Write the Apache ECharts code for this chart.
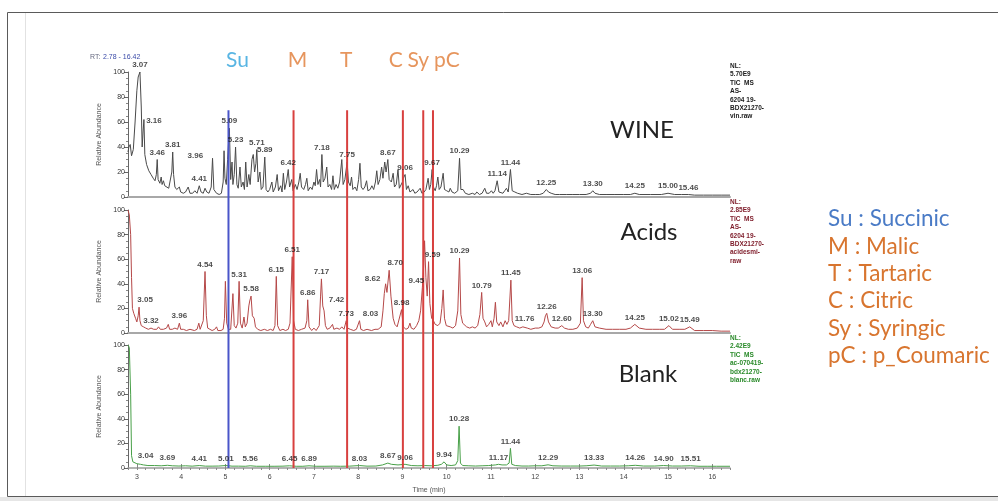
<!DOCTYPE html>
<html>
<head>
<meta charset="utf-8">
<script src="https://cdn.jsdelivr.net/npm/echarts@6/dist/echarts.min.js"></script>
<style>
  html, body { margin: 0; padding: 0; background: #ffffff; }
  #chart { width: 998px; height: 501px; }
</style>
</head>
<body>
<div id="chart"></div>
<script>
// ---- Chromatogram traces: [retention time (min), relative abundance (%)] ----
const wineTrace = [
  [2.8, 36], [2.82, 40], [2.85, 42], [2.88, 33], [2.92, 38], [2.96, 60], [3.0, 85], [3.03, 96], [3.07, 100],
  [3.1, 72], [3.12, 40], [3.14, 52], [3.16, 62], [3.18, 34], [3.22, 26], [3.27, 21], [3.32, 18], [3.37, 15],
  [3.41, 13], [3.44, 18], [3.46, 30], [3.48, 14], [3.52, 11], [3.55, 16], [3.57, 10], [3.6, 13], [3.63, 9],
  [3.67, 8], [3.72, 7], [3.76, 8], [3.79, 20], [3.81, 36], [3.83, 18], [3.86, 8], [3.9, 6], [3.94, 5],
  [3.96, 8], [3.99, 4], [4.05, 3], [4.1, 4], [4.16, 8], [4.2, 3], [4.26, 3], [4.31, 5], [4.36, 3], [4.41, 9],
  [4.45, 4], [4.5, 3], [4.54, 7], [4.58, 4], [4.63, 3], [4.68, 8], [4.71, 31], [4.74, 6], [4.8, 3], [4.86, 2],
  [4.91, 3], [4.95, 12], [4.97, 37], [4.99, 15], [5.02, 10], [5.05, 30], [5.09, 55], [5.12, 14], [5.15, 28],
  [5.17, 10], [5.2, 18], [5.23, 40], [5.26, 10], [5.29, 7], [5.33, 24], [5.36, 8], [5.4, 12], [5.43, 6],
  [5.46, 28], [5.49, 8], [5.53, 18], [5.56, 10], [5.6, 30], [5.63, 34], [5.66, 20], [5.69, 27], [5.71, 38],
  [5.74, 12], [5.78, 20], [5.81, 6], [5.85, 8], [5.89, 32], [5.92, 6], [5.96, 4], [6.0, 6], [6.05, 12],
  [6.08, 4], [6.13, 8], [6.17, 18], [6.2, 5], [6.25, 9], [6.28, 4], [6.31, 19], [6.34, 6], [6.38, 12],
  [6.42, 22], [6.45, 8], [6.5, 14], [6.53, 5], [6.58, 10], [6.62, 6], [6.66, 12], [6.69, 19], [6.72, 8],
  [6.77, 6], [6.81, 10], [6.84, 15], [6.87, 5], [6.92, 8], [6.96, 6], [7.0, 12], [7.03, 9], [7.06, 22],
  [7.09, 10], [7.13, 14], [7.15, 8], [7.18, 34], [7.21, 12], [7.25, 15], [7.29, 24], [7.32, 8], [7.36, 10],
  [7.4, 6], [7.43, 17], [7.46, 6], [7.5, 10], [7.54, 7], [7.58, 12], [7.63, 30], [7.66, 10], [7.7, 14],
  [7.75, 28], [7.78, 12], [7.82, 9], [7.85, 16], [7.88, 6], [7.93, 8], [7.97, 5], [8.01, 14], [8.04, 27],
  [8.07, 8], [8.11, 6], [8.15, 8], [8.19, 13], [8.22, 5], [8.27, 6], [8.31, 9], [8.35, 6], [8.39, 12],
  [8.42, 21], [8.45, 10], [8.49, 14], [8.53, 24], [8.56, 15], [8.6, 28], [8.63, 20], [8.67, 30], [8.7, 14],
  [8.75, 12], [8.79, 19], [8.82, 8], [8.86, 10], [8.9, 22], [8.93, 7], [8.97, 8], [9.0, 12], [9.02, 15],
  [9.06, 18], [9.09, 6], [9.13, 9], [9.17, 4], [9.21, 5], [9.24, 6], [9.28, 3], [9.33, 4], [9.37, 3],
  [9.4, 7], [9.44, 3], [9.49, 4], [9.53, 6], [9.58, 15], [9.61, 6], [9.64, 10], [9.67, 22], [9.7, 8],
  [9.74, 5], [9.77, 9], [9.8, 16], [9.83, 6], [9.87, 8], [9.92, 19], [9.95, 6], [10.0, 5], [10.05, 4],
  [10.08, 7], [10.12, 4], [10.18, 3], [10.25, 5], [10.29, 31], [10.32, 6], [10.37, 6], [10.42, 3],
  [10.5, 2], [10.58, 3], [10.64, 2], [10.68, 4], [10.74, 2], [10.8, 3], [10.86, 7], [10.9, 3], [10.96, 3],
  [11.01, 5], [11.05, 3], [11.09, 5], [11.14, 13], [11.18, 4], [11.22, 5], [11.27, 3], [11.31, 5],
  [11.35, 7], [11.39, 4], [11.44, 22], [11.48, 5], [11.54, 4], [11.6, 3], [11.7, 2], [11.8, 3], [11.9, 2],
  [12.0, 2], [12.1, 2], [12.18, 3], [12.25, 6], [12.3, 4], [12.36, 3], [12.45, 2], [12.55, 2], [12.7, 2],
  [12.85, 2], [13.0, 2], [13.15, 2], [13.25, 3], [13.3, 5], [13.35, 3], [13.45, 2], [13.6, 2], [13.8, 2],
  [14.0, 2], [14.15, 2], [14.25, 3], [14.35, 2], [14.6, 2], [14.85, 2], [15.0, 3], [15.15, 2], [15.3, 2],
  [15.46, 2], [15.6, 1.5], [15.8, 1.5], [16.0, 1.5], [16.2, 1.5], [16.4, 1.5]
];

const acidsTrace = [
  [2.8, 100], [2.83, 96], [2.86, 80], [2.88, 45], [2.9, 20], [2.93, 16], [2.97, 12], [3.0, 9], [3.03, 14],
  [3.05, 21], [3.07, 10], [3.1, 6], [3.15, 5], [3.2, 4], [3.26, 3], [3.32, 4], [3.38, 3], [3.45, 3],
  [3.49, 5], [3.53, 3], [3.6, 3], [3.67, 4], [3.71, 7], [3.74, 3], [3.8, 3], [3.86, 4], [3.92, 3],
  [3.96, 8], [3.99, 3], [4.05, 3], [4.12, 2], [4.2, 3], [4.3, 2], [4.36, 3], [4.4, 8], [4.43, 3],
  [4.47, 3], [4.5, 10], [4.54, 50], [4.57, 14], [4.6, 4], [4.65, 3], [4.7, 2], [4.76, 3], [4.8, 5],
  [4.83, 2], [4.9, 2], [4.95, 3], [4.98, 12], [5.0, 42], [5.03, 8], [5.07, 3], [5.12, 3], [5.17, 32],
  [5.2, 6], [5.24, 4], [5.28, 8], [5.31, 42], [5.34, 8], [5.38, 4], [5.42, 13], [5.45, 5], [5.49, 8],
  [5.53, 22], [5.55, 26], [5.58, 30], [5.61, 14], [5.65, 12], [5.68, 5], [5.73, 3], [5.8, 2], [5.88, 3],
  [5.95, 2], [6.02, 3], [6.08, 2], [6.12, 6], [6.15, 46], [6.18, 6], [6.23, 2], [6.3, 3], [6.36, 2],
  [6.42, 3], [6.46, 8], [6.51, 62], [6.54, 10], [6.58, 3], [6.65, 2], [6.72, 3], [6.8, 4], [6.84, 10],
  [6.86, 27], [6.89, 5], [6.95, 2], [7.0, 4], [7.05, 2], [7.12, 6], [7.15, 30], [7.17, 44], [7.2, 22],
  [7.23, 18], [7.26, 6], [7.3, 3], [7.36, 4], [7.42, 7], [7.45, 3], [7.52, 4], [7.58, 3], [7.63, 5],
  [7.68, 3], [7.73, 10], [7.76, 4], [7.82, 3], [7.9, 2], [7.96, 3], [8.03, 10], [8.06, 3], [8.12, 2],
  [8.2, 3], [8.3, 2], [8.38, 3], [8.45, 3], [8.52, 5], [8.56, 18], [8.59, 32], [8.62, 40], [8.65, 33],
  [8.7, 51], [8.74, 30], [8.79, 12], [8.83, 7], [8.88, 5], [8.92, 4], [8.98, 19], [9.02, 5], [9.08, 3],
  [9.13, 4], [9.17, 8], [9.2, 4], [9.26, 3], [9.32, 6], [9.37, 10], [9.41, 18], [9.45, 37], [9.48, 55],
  [9.5, 75], [9.53, 45], [9.56, 30], [9.59, 58], [9.62, 24], [9.66, 12], [9.7, 10], [9.74, 7], [9.8, 6],
  [9.85, 8], [9.89, 20], [9.92, 35], [9.95, 12], [9.99, 6], [10.03, 7], [10.08, 5], [10.14, 4], [10.2, 6],
  [10.25, 18], [10.29, 61], [10.32, 15], [10.36, 8], [10.4, 7], [10.45, 5], [10.52, 4], [10.58, 5],
  [10.64, 4], [10.7, 6], [10.75, 15], [10.79, 33], [10.82, 12], [10.86, 9], [10.9, 5], [10.95, 7],
  [11.0, 10], [11.03, 5], [11.07, 12], [11.1, 25], [11.13, 9], [11.18, 6], [11.22, 9], [11.27, 5],
  [11.32, 10], [11.36, 7], [11.4, 10], [11.45, 43], [11.48, 10], [11.52, 6], [11.58, 5], [11.65, 4],
  [11.72, 5], [11.76, 6], [11.82, 4], [11.9, 3], [12.0, 4], [12.08, 4], [12.15, 5], [12.2, 9], [12.23, 14],
  [12.26, 16], [12.3, 9], [12.36, 5], [12.45, 4], [12.52, 4], [12.6, 6], [12.66, 4], [12.75, 3],
  [12.85, 3], [12.95, 4], [13.02, 8], [13.06, 45], [13.09, 10], [13.14, 5], [13.2, 4], [13.25, 7],
  [13.3, 10], [13.35, 5], [13.45, 4], [13.6, 3], [13.75, 3], [13.9, 3], [14.05, 3], [14.15, 4], [14.25, 7],
  [14.35, 4], [14.5, 3], [14.65, 3], [14.8, 3], [14.92, 3], [15.02, 6], [15.1, 3], [15.25, 3], [15.38, 3],
  [15.49, 5], [15.6, 2], [15.8, 2], [16.0, 2], [16.2, 1.5], [16.4, 1.5]
];

const blankTrace = [
  [2.8, 100], [2.83, 98], [2.86, 60], [2.88, 10], [2.91, 5], [2.95, 4], [3.0, 3.5], [3.04, 4], [3.08, 3],
  [3.15, 2.5], [3.25, 2], [3.4, 2], [3.55, 1.8], [3.69, 2.2], [3.8, 1.8], [3.95, 1.6], [4.1, 1.8],
  [4.25, 1.5], [4.41, 2], [4.55, 1.5], [4.7, 1.5], [4.85, 1.6], [5.01, 2], [5.15, 1.5], [5.3, 1.5],
  [5.45, 1.4], [5.56, 1.8], [5.7, 1.4], [5.9, 1.4], [6.1, 1.4], [6.3, 1.5], [6.45, 1.8], [6.6, 1.4],
  [6.75, 1.4], [6.89, 1.8], [7.05, 1.4], [7.25, 1.4], [7.45, 1.5], [7.6, 1.4], [7.8, 1.5], [8.03, 2],
  [8.2, 1.5], [8.4, 1.6], [8.55, 2.5], [8.67, 4], [8.75, 3], [8.9, 2.5], [9.06, 3], [9.2, 2], [9.35, 1.8],
  [9.5, 2], [9.65, 1.8], [9.8, 2.2], [9.88, 3], [9.94, 5], [10.0, 2.5], [10.1, 2], [10.2, 2.5], [10.25, 6],
  [10.28, 34], [10.31, 4], [10.36, 2], [10.5, 1.8], [10.65, 1.6], [10.8, 1.8], [10.95, 2], [11.1, 2.5],
  [11.17, 3], [11.25, 2.5], [11.35, 2.5], [11.41, 4], [11.44, 16], [11.47, 3], [11.55, 2], [11.7, 1.6],
  [11.85, 1.6], [12.0, 1.8], [12.15, 1.8], [12.29, 2.6], [12.4, 1.8], [12.6, 1.6], [12.8, 1.6], [13.0, 1.6],
  [13.15, 1.8], [13.33, 2.4], [13.5, 1.6], [13.7, 1.6], [13.9, 1.6], [14.1, 1.8], [14.26, 2.2], [14.45, 1.6],
  [14.7, 1.6], [14.9, 2], [15.1, 1.6], [15.3, 1.6], [15.51, 1.8], [15.7, 1.4], [15.9, 1.4], [16.1, 1.4],
  [16.4, 1.4]
];

// ---- Retention times of the annotated peaks ----
const winePeakTimes = [3.07, 3.16, 3.46, 3.81, 3.96, 4.41, 5.09, 5.23, 5.71, 5.89, 6.42, 7.18, 7.75, 8.67,
  9.06, 9.67, 10.29, 11.14, 11.44, 12.25, 13.3, 14.25, 15.0, 15.46];
const acidsPeakTimes = [3.05, 3.32, 3.96, 4.54, 5.31, 5.58, 6.15, 6.51, 6.86, 7.17, 7.42, 7.73, 8.03, 8.62,
  8.7, 8.98, 9.45, 9.59, 10.29, 10.79, 11.45, 11.76, 12.26, 12.6, 13.06, 13.3, 14.25, 15.02, 15.49];
const blankPeakTimes = [3.04, 3.69, 4.41, 5.01, 5.56, 6.45, 6.89, 8.03, 8.67, 9.06, 9.94, 10.28, 11.17,
  11.44, 12.29, 13.33, 14.26, 14.9, 15.51];

// ---- Marker lines for the reference compounds ----
const markerCodes = ['Su', 'M', 'T', 'C', 'Sy', 'pC'];
const markerTimes = [5.07, 6.54, 7.75, 9.01, 9.47, 9.69];
const compoundNames = ['Succinic', 'Malic', 'Tartaric', 'Citric', 'Syringic', 'p_Coumaric'];

// ---- Axis ticks and panel texts ----
const timeTicks = [3, 4, 5, 6, 7, 8, 9, 10, 11, 12, 13, 14, 15, 16];
const panelNames = ['WINE', 'Acids', 'Blank'];
const wineInfo = ['NL:', '5.70E9', 'TIC  MS', 'AS-', '6204 19-', 'BDX21270-', 'vin.raw'];
const acidsInfo = ['NL:', '2.85E9', 'TIC  MS', 'AS-', '6204 19-', 'BDX21270-', 'acidesmi-', 'raw'];
const blankInfo = ['NL:', '2.42E9', 'TIC  MS', 'ac-070419-', 'bdx21270-', 'blanc.raw'];

// ---- Layout / style ----
const X_MIN = 2.8, X_MAX = 16.4;
const GRID_LEFT = 128, GRID_RIGHT = 268;
const panels = [
  { top: 72, height: 125, trace: wineTrace, peaks: winePeakTimes, color: '#4a4a4a',
    offsets: { 3.16: [10, 8], 3.96: [16, -24] } },
  { top: 210, height: 123, trace: acidsTrace, peaks: acidsPeakTimes, color: '#b54848',
    offsets: { 3.05: [6, 0], 7.42: [4, -18], 8.03: [11, 0], 8.62: [-13, 2], 8.7: [6, 0], 9.45: [-6, 0], 9.59: [4, 0] } },
  { top: 345, height: 123, trace: blankTrace, peaks: blankPeakTimes, color: '#48a048',
    offsets: { 3.04: [7, 0] } }
];
const MARK_GRID = { top: 45, height: 423 };
const MARK_TOP = 84.6;      // upper end of marker lines (grid units)
const MARK_LABEL_Y = 96.5;  // marker code row (grid units)
const markerLabelOffsets = [9, 4, -1, -7, -5, 14];
const markerLineColors = ['#4a55c9', '#d8403f', '#d8403f', '#d8403f', '#d8403f', '#d8403f'];
const markerTextColors = ['#2ea3dc', '#e07a34', '#e07a34', '#e07a34', '#e07a34', '#e07a34'];

function peakItems(trace, times, offsets) {
  return times.map(t => {
    const p = trace.find(d => d[0] === t);
    const item = { value: p };
    if (offsets[t]) item.label = { offset: offsets[t] };
    return item;
  });
}

const grids = [], xAxes = [], yAxes = [], series = [];

panels.forEach((p, i) => {
  grids.push({ left: GRID_LEFT, right: GRID_RIGHT, top: p.top, height: p.height });
  const isBottom = i === panels.length - 1;
  xAxes.push(isBottom ? {
    gridIndex: i, type: 'value', min: X_MIN, max: X_MAX, interval: 0.2,
    axisLine: { show: true, onZero: false, lineStyle: { color: '#9a9a9a', width: 1.5 } },
    axisTick: { show: true, length: 2, lineStyle: { color: '#8a8a8a' } },
    axisLabel: {
      interval: 0, fontSize: 7, color: '#444', margin: 6, fontFamily: 'Liberation Sans',
      formatter: v => (Math.abs(v - Math.round(v)) < 1e-6 && timeTicks.includes(Math.round(v))) ? String(Math.round(v)) : ''
    },
    splitLine: { show: false },
    name: 'Time (min)', nameLocation: 'middle', nameGap: 19,
    nameTextStyle: { fontSize: 7, color: '#555', fontFamily: 'Liberation Sans' }
  } : {
    gridIndex: i, type: 'value', min: X_MIN, max: X_MAX,
    axisLine: { show: true, onZero: false, lineStyle: { color: '#a8a8a8', width: 2 } },
    axisTick: { show: false }, axisLabel: { show: false }, splitLine: { show: false }
  });
  yAxes.push({
    gridIndex: i, type: 'value', min: 0, max: 100, interval: 20,
    name: 'Relative Abundance', nameLocation: 'middle', nameGap: 24,
    nameTextStyle: { fontSize: 7, color: '#555', fontFamily: 'Liberation Sans' },
    axisLine: { show: true, lineStyle: { color: '#666', width: 1 } },
    axisTick: { show: true, length: 4, lineStyle: { color: '#666' } },
    minorTick: { show: true, splitNumber: 4, length: 2, lineStyle: { color: '#888' } },
    axisLabel: { fontSize: 7, color: '#333', margin: 3, fontFamily: 'Liberation Sans' },
    splitLine: { show: false }
  });
  series.push({
    type: 'line', xAxisIndex: i, yAxisIndex: i, data: p.trace, symbol: 'none', showSymbol: false,
    lineStyle: { width: 1, color: p.color }, silent: true, z: 2
  });
  series.push({
    type: 'scatter', xAxisIndex: i, yAxisIndex: i, data: peakItems(p.trace, p.peaks, p.offsets),
    symbolSize: 0, itemStyle: { color: 'rgba(0,0,0,0)' }, silent: true, z: 4,
    label: {
      show: true, position: 'top', distance: 3,
      formatter: q => q.value[0].toFixed(2),
      fontSize: 8, fontWeight: 'bold', color: '#1c1c1c', fontFamily: 'Liberation Sans'
    }
  });
});

// Overlay grid carrying the compound marker lines across all three panels
grids.push({ left: GRID_LEFT, right: GRID_RIGHT, top: MARK_GRID.top, height: MARK_GRID.height });
xAxes.push({ gridIndex: 3, type: 'value', min: X_MIN, max: X_MAX, show: false });
yAxes.push({ gridIndex: 3, type: 'value', min: 0, max: 100, show: false });
markerTimes.forEach((t, i) => {
  series.push({
    type: 'line', xAxisIndex: 3, yAxisIndex: 3, data: [[t, 0], [t, MARK_TOP]],
    symbol: 'none', lineStyle: { width: 2, color: markerLineColors[i] }, silent: true, z: 3
  });
});
series.push({
  type: 'scatter', xAxisIndex: 3, yAxisIndex: 3, symbolSize: 0, silent: true,
  itemStyle: { color: 'rgba(0,0,0,0)' },
  data: markerTimes.map((t, i) => ({
    value: [t, MARK_LABEL_Y],
    label: { offset: [markerLabelOffsets[i], 0], color: markerTextColors[i] }
  })),
  label: {
    show: true, position: 'inside', fontSize: 21, fontFamily: 'Lato',
    formatter: q => markerCodes[q.dataIndex]
  }
});

// Major ticks for the time axis of the bottom panel
xAxes.push({
  gridIndex: 2, type: 'value', min: X_MIN, max: X_MAX,
  axisLine: { show: false },
  axisTick: { show: true, length: 4, customValues: timeTicks, lineStyle: { color: '#888' } },
  axisLabel: { show: false }, splitLine: { show: false }
});

// Annotations drawn as graphic text
const graphics = [
  { type: 'rect', shape: { x: 7.5, y: 12.5, width: 1000, height: 484 },
    style: { fill: 'none', stroke: '#5a5a5a', lineWidth: 1 }, silent: true },
  { type: 'line', shape: { x1: 25.5, y1: 13, x2: 25.5, y2: 496 },
    style: { stroke: '#e2e2e2', lineWidth: 1 }, silent: true },
  { type: 'rect', shape: { x: 0, y: 497, width: 998, height: 4 },
    style: { fill: '#e6e6e6' }, silent: true },
  { type: 'text', x: 90, y: 57, style: { text: 'RT:', fill: '#666a80', font: '7px Liberation Sans', verticalAlign: 'middle' } },
  { type: 'text', x: 103, y: 57, style: { text: '2.78 - 16.42', fill: '#3a4aa8', font: '7px Liberation Sans', verticalAlign: 'middle' } }
];
const panelLabelPos = [[642, 130], [649, 232], [648, 374]];
panelNames.forEach((n, i) => {
  graphics.push({ type: 'text', x: panelLabelPos[i][0], y: panelLabelPos[i][1],
    style: { text: n, fill: '#222', font: '24px Lato', align: 'center', verticalAlign: 'middle' } });
});
const infoBlocks = [[wineInfo, 62, '#1a1a1a'], [acidsInfo, 198, '#7d1a28'], [blankInfo, 334, '#2a8a2a']];
infoBlocks.forEach(([lines, y, c]) => {
  graphics.push({ type: 'text', x: 730, y: y,
    style: { text: lines.join('\n'), fill: c, font: 'bold 6.5px Liberation Sans', lineHeight: 8.4 } });
});
markerCodes.forEach((code, i) => {
  graphics.push({ type: 'text', x: 828, y: 219 + i * 27.4,
    style: { text: code + ' : ' + compoundNames[i], fill: i === 0 ? '#4a7bc6' : '#d8752f',
      font: '22.5px Lato', verticalAlign: 'middle' } });
});

const chart = echarts.init(document.getElementById('chart'), null, { renderer: 'canvas' });
chart.setOption({
  animation: false,
  backgroundColor: '#ffffff',
  grid: grids,
  xAxis: xAxes,
  yAxis: yAxes,
  series: series,
  graphic: graphics
});
</script>
</body>
</html>
